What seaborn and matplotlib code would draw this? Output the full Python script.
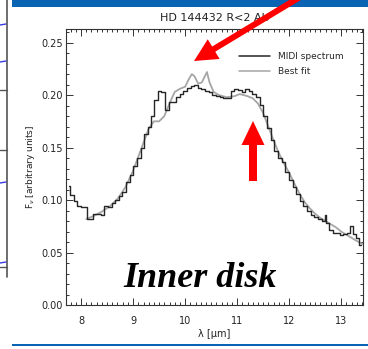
import matplotlib
matplotlib.use("Agg")
import matplotlib.pyplot as plt
import pandas as pd
import seaborn as sns
from matplotlib.patches import FancyArrow, Rectangle
from matplotlib.ticker import MultipleLocator

sns.set_style("ticks")
plt.rcParams['font.family'] = ['DejaVu Sans']

# MIDI correlated spectrum (binned, drawn as steps)
midi_wavelength = [7.76, 7.82, 7.89, 7.96, 8.03, 8.10, 8.13, 8.20, 8.27, 8.34,
                   8.41, 8.48, 8.55, 8.62, 8.69, 8.76, 8.83, 8.90, 8.97, 9.04,
                   9.11, 9.18, 9.25, 9.32, 9.38, 9.44, 9.51, 9.58, 9.65, 9.72,
                   9.79, 9.86, 9.93, 10.00, 10.07, 10.14, 10.21, 10.28, 10.35, 10.42,
                   10.49, 10.56, 10.63, 10.70, 10.77, 10.84, 10.91, 10.98, 11.05, 11.12,
                   11.19, 11.26, 11.33, 11.40, 11.47, 11.54, 11.61, 11.68, 11.75, 11.82,
                   11.89, 11.96, 12.03, 12.10, 12.17, 12.24, 12.31, 12.38, 12.45, 12.52,
                   12.59, 12.66, 12.70, 12.73, 12.80, 12.87, 12.94, 13.01, 13.08, 13.15,
                   13.20, 13.25, 13.32, 13.38]
midi_flux = [0.113, 0.105, 0.099, 0.094, 0.093, 0.093, 0.082, 0.082, 0.087, 0.087,
             0.086, 0.094, 0.093, 0.097, 0.100, 0.104, 0.108, 0.117, 0.124, 0.132,
             0.140, 0.150, 0.163, 0.170, 0.180, 0.195, 0.204, 0.203, 0.186, 0.193,
             0.193, 0.198, 0.201, 0.204, 0.207, 0.209, 0.210, 0.207, 0.206, 0.204,
             0.203, 0.200, 0.199, 0.198, 0.197, 0.197, 0.204, 0.206, 0.205, 0.203,
             0.206, 0.204, 0.201, 0.198, 0.191, 0.180, 0.169, 0.157, 0.147, 0.140,
             0.136, 0.127, 0.119, 0.112, 0.106, 0.099, 0.094, 0.090, 0.086, 0.084,
             0.082, 0.080, 0.086, 0.078, 0.071, 0.069, 0.069, 0.067, 0.068, 0.069,
             0.075, 0.068, 0.064, 0.057]

# Best-fit model
fit_wavelength = [8.10, 8.25, 8.40, 8.55, 8.70, 8.85, 9.00, 9.15, 9.30, 9.40,
                  9.50, 9.60, 9.70, 9.80, 9.90, 10.00, 10.08, 10.13, 10.18, 10.25,
                  10.32, 10.38, 10.42, 10.47, 10.55, 10.65, 10.80, 10.95, 11.05, 11.20,
                  11.30, 11.40, 11.50, 11.60, 11.70, 11.80, 11.90, 12.00, 12.10, 12.20,
                  12.30, 12.40, 12.50, 12.60, 12.70, 12.80, 12.90, 13.00, 13.10, 13.20,
                  13.30, 13.42]
fit_flux = [0.082, 0.085, 0.089, 0.094, 0.101, 0.112, 0.128, 0.148, 0.168, 0.175,
            0.175, 0.180, 0.192, 0.203, 0.206, 0.208, 0.216, 0.220, 0.218, 0.211,
            0.212, 0.218, 0.222, 0.212, 0.203, 0.200, 0.198, 0.199, 0.201, 0.199,
            0.197, 0.192, 0.183, 0.170, 0.157, 0.145, 0.135, 0.126, 0.116, 0.106,
            0.098, 0.092, 0.087, 0.083, 0.080, 0.077, 0.074, 0.070, 0.067, 0.064,
            0.061, 0.058]

x_ticks = [8, 9, 10, 11, 12, 13]
y_ticks = [0.00, 0.05, 0.10, 0.15, 0.20, 0.25]
title = "HD 144432 R<2 AU"
series_names = ["MIDI spectrum", "Best fit"]
annotation = "Inner disk"

W, H = 368, 349
fig = plt.figure(figsize=(W / 100, H / 100), dpi=100)


def fx(px):
    return px / W


def fy(py):
    return 1 - py / H


ax = fig.add_axes([fx(66), fy(305), fx(363) - fx(66), fy(29) - fy(305)])

midi = pd.DataFrame({"wavelength": midi_wavelength, "flux": midi_flux})
fit = pd.DataFrame({"wavelength": fit_wavelength, "flux": fit_flux})

sns.lineplot(data=midi, x="wavelength", y="flux", ax=ax, color="#262626",
             lw=1.0, drawstyle="steps-mid", label=series_names[0], zorder=3)
sns.lineplot(data=fit, x="wavelength", y="flux", ax=ax, color="#a6a6a6",
             lw=1.3, label=series_names[1], zorder=2)

ax.set_xlim(7.71, 13.42)
ax.set_ylim(0, 0.263)
ax.set_xticks(x_ticks)
ax.set_xticklabels([str(t) for t in x_ticks])
ax.set_yticks(y_ticks)
ax.set_yticklabels([f"{t:.2f}" for t in y_ticks])
ax.xaxis.set_minor_locator(MultipleLocator(0.1))
ax.yaxis.set_minor_locator(MultipleLocator(0.01))
ax.tick_params(which="both", direction="in", top=True, right=True,
               colors="#333333", width=0.7)
ax.tick_params(which="major", length=5)
ax.tick_params(which="minor", length=2.5)
ax.tick_params(axis="x", which="major", pad=8, labelsize=7, labelcolor="#222222")
ax.tick_params(axis="y", which="major", pad=2, labelsize=7, labelcolor="#222222")
for sp in ax.spines.values():
    sp.set_visible(True)
    sp.set_color("#333333")
    sp.set_linewidth(0.8)

ax.set_xlabel("λ [μm]", fontsize=7, color="#222222", labelpad=2)
ax.set_ylabel(r"F$_\nu$ [arbitrary units]", fontsize=6.5, color="#222222", labelpad=3)
ax.set_title(title, fontsize=8, color="#222222", pad=6)

leg = ax.legend(loc="upper left", bbox_to_anchor=(0.57, 0.93), frameon=False,
                fontsize=6.5, handlelength=3.4, handletextpad=0.9,
                labelspacing=0.65, borderaxespad=0)
for line in leg.get_lines():
    line.set_linewidth(1.1)

ax.text(10.28, 0.017, annotation, fontsize=26, fontweight="bold", fontstyle="italic",
        family="Liberation Serif", color="black", ha="center", va="baseline")

# Overlay in pixel coordinates for slide decorations
ov = fig.add_axes([0, 0, 1, 1], zorder=10)
ov.set_xlim(0, W)
ov.set_ylim(H, 0)
ov.axis("off")
ov.patch.set_alpha(0)

ov.add_patch(Rectangle((12, 0), W - 12, 7, color="#0a64b4", lw=0))
ov.add_patch(Rectangle((12, 344), W - 12, 2, color="#0a64b4", lw=0))

# Edge of the neighbouring panel
ov.plot([7, 7], [0, 277], color="#555555", lw=1.2)
for yy in [90, 150, 267]:
    ov.plot([0, 7], [yy, yy], color="#555555", lw=1.0)
for yy in [25, 62, 183, 263]:
    ov.plot([0, 6], [yy, yy - 1], color="#3a3adf", lw=1.0)

ov.add_patch(FancyArrow(305, -6, 194 - 305, 61 + 6, width=6, head_width=23,
                        head_length=23, length_includes_head=True,
                        color="#ff0000", lw=0))
ov.add_patch(FancyArrow(253, 181, 0, -60, width=8, head_width=23,
                        head_length=24, length_includes_head=True,
                        color="#ff0000", lw=0))

fig.savefig("out.png", dpi=100)
